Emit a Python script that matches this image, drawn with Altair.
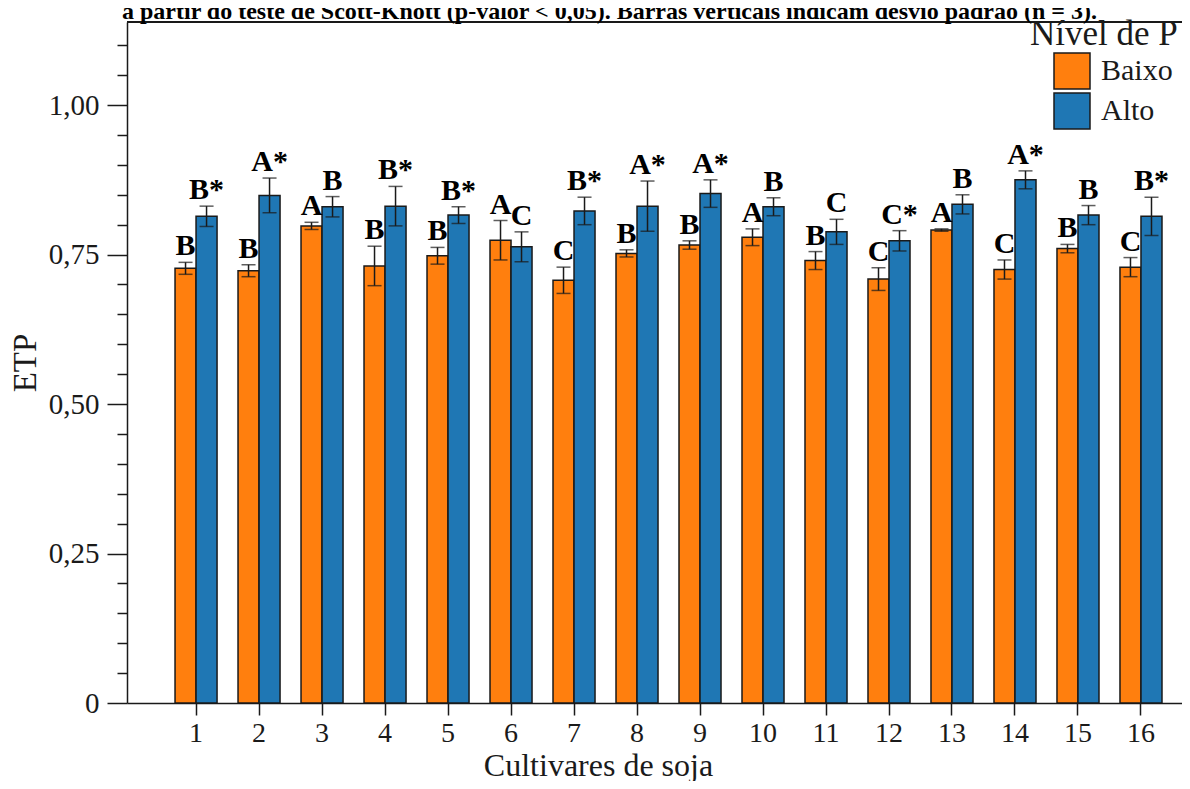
import altair as alt
import pandas as pd

cultivares = [str(i) for i in range(1, 17)]
niveis = ["Baixo", "Alto"]
baixo = [0.727, 0.723, 0.798, 0.731, 0.748, 0.774, 0.707, 0.752, 0.766, 0.779, 0.740, 0.709, 0.791, 0.725, 0.760, 0.729]
baixo_sd = [0.010, 0.010, 0.006, 0.033, 0.014, 0.033, 0.022, 0.006, 0.007, 0.014, 0.015, 0.019, 0.002, 0.016, 0.007, 0.016]
alto = [0.814, 0.849, 0.830, 0.831, 0.816, 0.763, 0.823, 0.831, 0.852, 0.830, 0.788, 0.773, 0.834, 0.875, 0.816, 0.814]
alto_sd = [0.017, 0.029, 0.017, 0.033, 0.014, 0.025, 0.023, 0.042, 0.023, 0.015, 0.021, 0.017, 0.016, 0.015, 0.016, 0.032]
letras_baixo = ["B", "B", "A", "B", "B", "A", "C", "B", "B", "A", "B", "C", "A", "C", "B", "C"]
letras_alto = ["B*", "A*", "B", "B*", "B*", "C", "B*", "A*", "A*", "B", "C", "C*", "B", "A*", "B", "B*"]
y_ticks = [round(i * 0.05, 2) for i in range(0, 23)]

titulo = "a partir do teste de Scott-Knott (p-valor < 0,05). Barras verticais indicam desvio padrão (n = 3)."

rows = []
for i, c in enumerate(cultivares):
    rows.append({"cultivar": c, "nivel": "Baixo", "etp": baixo[i], "sd": baixo_sd[i], "letra": letras_baixo[i]})
    rows.append({"cultivar": c, "nivel": "Alto", "etp": alto[i], "sd": alto_sd[i], "letra": letras_alto[i]})
df = pd.DataFrame(rows)
df["lo"] = df["etp"] - df["sd"]
df["hi"] = df["etp"] + df["sd"]

FONT = "Liberation Serif"
INK = "#1a1a1a"
W, H = 1055, 681

x_enc = alt.X(
    "cultivar:N",
    sort=cultivares,
    scale=alt.Scale(paddingInner=0.333, paddingOuter=0.54, align=0.706),
    axis=alt.Axis(
        title="Cultivares de soja", labelAngle=0, tickSize=12, tickWidth=1.5, tickColor=INK,
        domainColor=INK, domainWidth=1.5, labelFont=FONT, labelFontSize=28, labelColor=INK,
        labelPadding=4, titleFont=FONT, titleFontSize=32, titleFontWeight="normal",
        titleColor=INK, titleX=471, titleY=72, titleAlign="center",
        titleBaseline="alphabetic", grid=False,
    ),
)
xo_enc = alt.XOffset("nivel:N", sort=niveis, scale=alt.Scale(paddingInner=0, paddingOuter=0))
y_scale = alt.Scale(domain=[0, 1.139], nice=False, zero=True)

major = "abs(datum.value*4 - round(datum.value*4)) < 0.01"
y_axis = alt.Axis(
    title="ETP", values=y_ticks, tickCount=40,
    labelExpr=f"{major} ? (datum.value == 0 ? '0' : replace(format(datum.value, '.2f'), '.', ',')) : ''",
    tickSize={"condition": {"test": major, "value": 20}, "value": 10},
    tickWidth=1.5, tickColor=INK, domainColor=INK, domainWidth=1.5,
    labelFont=FONT, labelFontSize=29, labelColor=INK, labelPadding=8, labelOverlap=False,
    labelFlush=False, titleFont=FONT, titleFontSize=33, titleFontWeight="normal",
    titleColor=INK, titlePadding=6, grid=False,
)

base = alt.Chart(df)

bars = base.mark_bar(stroke=INK, strokeWidth=1.5).encode(
    x=x_enc,
    xOffset=xo_enc,
    y=alt.Y("etp:Q", scale=y_scale, axis=y_axis),
    color=alt.Color(
        "nivel:N", sort=niveis,
        scale=alt.Scale(domain=niveis, range=["#FF7F0E", "#1F77B4"]),
        legend=alt.Legend(
            title="Nível de P", orient="none", legendX=903, legendY=-5,
            titleFont=FONT, titleFontSize=35, titleFontWeight="normal", titleColor=INK,
            titlePadding=0, labelFont=FONT, labelFontSize=30, labelColor=INK,
            symbolType="square", symbolSize=1296, symbolStrokeColor=INK,
            symbolStrokeWidth=1.5, symbolOpacity=1, symbolOffset=23, rowPadding=-5,
            labelOffset=10, padding=0,
        ),
    ),
)

err = base.mark_rule(color=INK, strokeWidth=1.5).encode(
    x=x_enc, xOffset=xo_enc, y=alt.Y("lo:Q", scale=y_scale), y2="hi:Q"
)
cap_lo = base.mark_tick(color=INK, size=14, thickness=1.5).encode(
    x=x_enc, xOffset=xo_enc, y=alt.Y("lo:Q", scale=y_scale)
)
cap_hi = base.mark_tick(color=INK, size=14, thickness=1.5).encode(
    x=x_enc, xOffset=xo_enc, y=alt.Y("hi:Q", scale=y_scale)
)
letters = base.mark_text(
    font=FONT, fontSize=30, fontWeight="bold", baseline="alphabetic", dy=-7, color="#000000"
).encode(x=x_enc, xOffset=xo_enc, y=alt.Y("hi:Q", scale=y_scale), text="letra:N")

top_line = base.mark_rule(color=INK, strokeWidth=1.5).encode(
    x=alt.value(0), x2=alt.value(W), y=alt.value(0)
)

title_text = alt.Chart(pd.DataFrame({"t": [titulo]})).mark_text(
    font=FONT, fontSize=24, fontWeight="bold", baseline="alphabetic", align="center",
    color="#000000",
).encode(text="t:N", x=alt.value(W / 2 - 45), y=alt.value(-3))

chart = (
    alt.layer(bars, err, cap_lo, cap_hi, letters, top_line, title_text)
    .properties(
        width=W, height=H,
        autosize=alt.AutoSizeParams(type="none"),
        padding={"left": 119, "top": 14, "right": 0, "bottom": 78},
    )
    .configure_view(stroke=None)
    .configure_axis(grid=False)
)

chart.save("out.html", embed_options={"renderer": "svg", "actions": False})
